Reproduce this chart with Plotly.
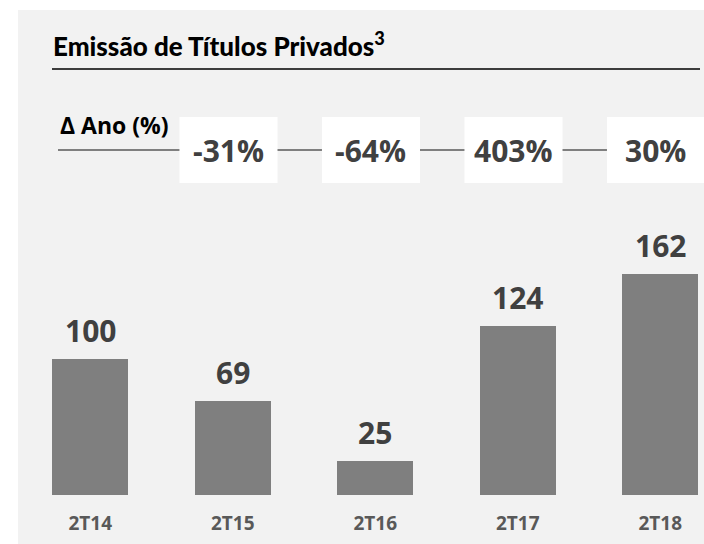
import plotly.graph_objects as go

categories = ["2T14", "2T15", "2T16", "2T17", "2T18"]
values = [100, 69, 25, 124, 162]
delta_labels = ["-31%", "-64%", "403%", "30%"]
title_text = "Emissão de Títulos Privados<sup>3</sup>"
delta_title = "Δ Ano (%)"

W, H = 704, 544
PLOT_L, PLOT_R, PLOT_T, PLOT_B = 19, 704, 10, 495  # pixel coords of plot area
ML, MR, MT, MB = PLOT_L, W - PLOT_R, PLOT_T, H - PLOT_B
PW, PH = PLOT_R - PLOT_L, PLOT_B - PLOT_T


def px(x):
    return (x - PLOT_L) / PW


def py(y):
    return (PLOT_B - y) / PH


FONT = "Open Sans, Roboto, sans-serif"
TITLE_FONT = "Lato, Roboto, sans-serif"

fig = go.Figure()
fig.add_trace(go.Bar(
    x=list(range(len(categories))),
    y=values,
    width=0.533,
    marker=dict(color="#7f7f7f", line=dict(width=0)),
    hoverinfo="skip",
))

shapes = []
# white margins outside the grey panel
shapes.append(dict(type="rect", xref="paper", yref="paper",
                   x0=px(-5), x1=px(18), y0=py(560), y1=py(-5),
                   fillcolor="white", line=dict(width=0), layer="above"))
shapes.append(dict(type="rect", xref="paper", yref="paper",
                   x0=px(-5), x1=px(720), y0=py(10), y1=py(-5),
                   fillcolor="white", line=dict(width=0), layer="above"))
# title rule
shapes.append(dict(type="line", xref="paper", yref="paper",
                   x0=px(52), x1=px(700), y0=py(69), y1=py(69),
                   line=dict(color="black", width=1.5)))
# delta line
shapes.append(dict(type="line", xref="paper", yref="paper",
                   x0=px(58), x1=px(640), y0=py(150), y1=py(150),
                   line=dict(color="#7f7f7f", width=2)))

annotations = []
for i, lab in enumerate(delta_labels):
    xc = i + 1 - 0.03
    shapes.append(dict(type="rect", xref="x", yref="paper",
                       x0=xc - 0.344, x1=xc + 0.344,
                       y0=py(183), y1=py(117),
                       fillcolor="white", line=dict(width=0)))
    annotations.append(dict(x=xc, y=py(151), xref="x", yref="paper",
                            text=lab, showarrow=False, yanchor="middle",
                            font=dict(family=FONT, size=30, color="#404040", weight="bold")))

for i, v in enumerate(values):
    annotations.append(dict(x=i, y=v, xref="x", yref="y", text=str(v), showarrow=False,
                            yanchor="bottom", yshift=6,
                            font=dict(family=FONT, size=30, color="#404040", weight="bold")))

annotations.append(dict(x=px(51), y=py(45), xref="paper", yref="paper",
                        xanchor="left", yanchor="middle", text=title_text, showarrow=False,
                        font=dict(family=TITLE_FONT, size=26, color="black", weight=900)))
annotations.append(dict(x=px(58), y=py(125), xref="paper", yref="paper",
                        xanchor="left", yanchor="middle", text=delta_title, showarrow=False,
                        font=dict(family=FONT, size=23, color="black", weight="bold")))

fig.update_layout(
    width=W, height=H,
    margin=dict(l=ML, r=MR, t=MT, b=MB, pad=0),
    paper_bgcolor="#f2f2f2",
    plot_bgcolor="#f2f2f2",
    showlegend=False,
    shapes=shapes,
    annotations=annotations,
    bargap=0,
)
fig.update_xaxes(
    range=[-0.5, -0.5 + PW / 142.5],
    tickmode="array",
    tickvals=list(range(len(categories))),
    ticktext=categories,
    tickfont=dict(family=FONT, size=19, color="#595959", weight="bold"),
    showgrid=False, zeroline=False, showline=False, ticks="",
    ticklabelstandoff=15,
    fixedrange=True,
)
fig.update_yaxes(
    range=[0, PH / 1.365],
    showgrid=False, zeroline=False, showline=False, showticklabels=False,
    fixedrange=True,
)

fig.write_html("out.html", config={"displayModeBar": False},
               post_script="document.body.style.margin='0';document.body.style.overflow='hidden';")
